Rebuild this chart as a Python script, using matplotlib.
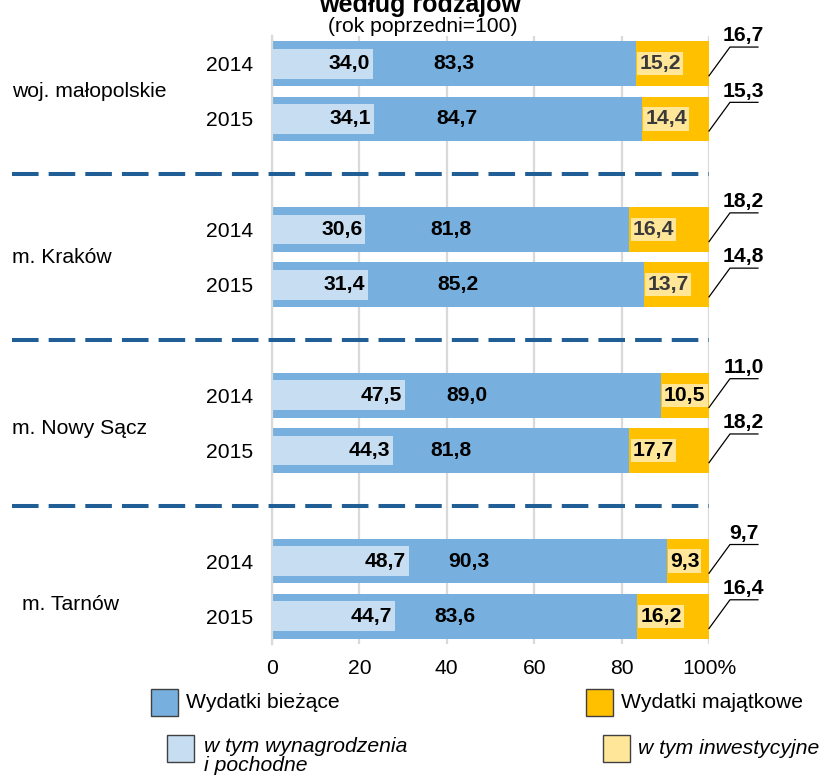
import matplotlib
matplotlib.use("Agg")
import matplotlib.pyplot as plt
from matplotlib.patches import Rectangle
import numpy as np

plt.rcParams['font.family'] = ['Liberation Sans', 'DejaVu Sans']

groups = ['woj. małopolskie', 'm. Kraków', 'm. Nowy Sącz', 'm. Tarnów']
years = ['2014', '2015']
biezace = [83.3, 84.7, 81.8, 85.2, 89.0, 81.8, 90.3, 83.6]
majatkowe = [16.7, 15.3, 18.2, 14.8, 11.0, 18.2, 9.7, 16.4]
wynagrodzenia = [34.0, 34.1, 30.6, 31.4, 47.5, 44.3, 48.7, 44.7]
# length of the light blue bars as drawn in the source chart
wynagr_len = [23.1, 23.3, 21.3, 22.0, 30.4, 27.7, 31.3, 28.1]
inwestycyjne = [15.2, 14.4, 16.4, 13.7, 10.5, 17.7, 9.3, 16.2]
xticks = [0, 20, 40, 60, 80, 100]
xtick_labels = ['0', '20', '40', '60', '80', '100%']

c_biez = '#77B0DE'
c_wyn = '#C7DDF1'
c_maj = '#FFC000'
c_inw = '#FFE699'
c_sep = '#215E95'

W, H = 822, 778
FS = 15.2   # normal text
FB = 15.2   # bold labels


def fmt(v):
    return f'{v:.1f}'.replace('.', ',')


def fx(px):
    return px / W


def fy(py):
    return 1 - py / H


fig = plt.figure(figsize=(W / 100, H / 100), dpi=100)
ax = fig.add_axes([fx(272), fy(644), fx(709) - fx(272), fy(36) - fy(644)])

pos = []
for g in range(len(groups)):
    for i in range(len(years)):
        pos.append(g * 3 + i)
pos = np.array(pos)

ax.barh(pos, biezace, height=0.81, color=c_biez, zorder=2)
ax.barh(pos, majatkowe, left=biezace, height=0.81, color=c_maj, zorder=2)
ax.barh(pos, wynagr_len, height=0.54, color=c_wyn, zorder=3)

for k, y in enumerate(pos):
    # wynagrodzenia label, right end of light blue bar
    ax.text(wynagr_len[k] - 0.6, y, fmt(wynagrodzenia[k]), ha='right', va='center',
            fontsize=FB, fontweight='bold', color='black', zorder=5)
    # biezace label, centred
    ax.text(biezace[k] / 2, y, fmt(biezace[k]), ha='center', va='center',
            fontsize=FB, fontweight='bold', color='black', zorder=5)
    # inwestycyjne label with light yellow box
    col = '#3A3A3A' if k < 4 else 'black'
    ax.annotate(fmt(inwestycyjne[k]), (biezace[k], y), xytext=(2.3, 0),
                textcoords='offset points', ha='left', va='center',
                fontsize=FB, fontweight='bold', color=col, zorder=5,
                bbox=dict(boxstyle='square,pad=0.1', fc=c_inw, ec='none'))
    # majatkowe callout
    total = biezace[k] + majatkowe[k]
    y0 = y + 0.22
    y1 = y - 0.3
    ax.plot([total, total + 4.8, total + 11.2], [y0, y1, y1], color='black',
            lw=0.9, clip_on=False, zorder=6)
    ax.text(total + 7.9, y1 - 0.03, fmt(majatkowe[k]), ha='center', va='bottom',
            fontsize=FB, fontweight='bold', color='black', clip_on=False)

# dashed separators between groups
for g in range(len(groups) - 1):
    ys = g * 3 + 2
    ax.plot([-59.5, 100], [ys, ys], color=c_sep, lw=2.9, ls=(0, (6.6, 2.5)),
            clip_on=False, zorder=4)

# group labels
shift = [0, 0, 0.1, 0.28]
indent = [0, 0, 0, 10]
for g, name in enumerate(groups):
    xa = (12 + indent[g] - 272) / 437
    ax.text(xa, g * 3 + 0.5 + shift[g], name, transform=ax.get_yaxis_transform(),
            ha='left', va='center', fontsize=FS)

ax.set_xlim(0, 100)
ax.set_ylim(10.5, -0.5)
ax.set_yticks(pos, labels=years * len(groups))
ax.set_xticks(xticks, labels=xtick_labels)
ax.tick_params(axis='y', length=0, pad=13.5, labelsize=FS)
ax.tick_params(axis='x', length=0, pad=11, labelsize=FS)
for s in ['top', 'right', 'bottom']:
    ax.spines[s].set_visible(False)
ax.spines['left'].set_color('#D9D9D9')
ax.spines['left'].set_linewidth(1.6)
ax.xaxis.grid(True, color='#D9D9D9', lw=1.6, zorder=0)
ax.set_axisbelow(True)

# titles (the main title is cropped at the top edge, as in the source)
fig.text(fx(420), fy(12), 'według rodzajów', ha='center', va='baseline',
         fontsize=18, fontweight='bold')
fig.text(fx(423), fy(26), '(rok poprzedni=100)', ha='center', va='center', fontsize=FS)

# legend
legend_items = [
    (151, 689, c_biez, 'Wydatki bieżące', 'normal'),
    (586, 689, c_maj, 'Wydatki majątkowe', 'normal'),
    (167, 735, c_wyn, 'w tym wynagrodzenia\ni pochodne', 'italic'),
    (603, 735, c_inw, 'w tym inwestycyjne', 'italic'),
]
for x0, y0, c, lab, st in legend_items:
    fig.add_artist(Rectangle((fx(x0), fy(y0 + 27)), 27 / W, 27 / H,
                             transform=fig.transFigure, fc=c, ec='#404040', lw=1.0))
    if '\n' in lab:
        fig.text(fx(x0 + 37), fy(y0 + 2), lab, ha='left', va='top',
                 fontsize=FS, fontstyle=st, linespacing=1.0)
    else:
        fig.text(fx(x0 + 35), fy(y0 + 14), lab, ha='left', va='center',
                 fontsize=FS, fontstyle=st)

fig.savefig('out.png', dpi=100)
